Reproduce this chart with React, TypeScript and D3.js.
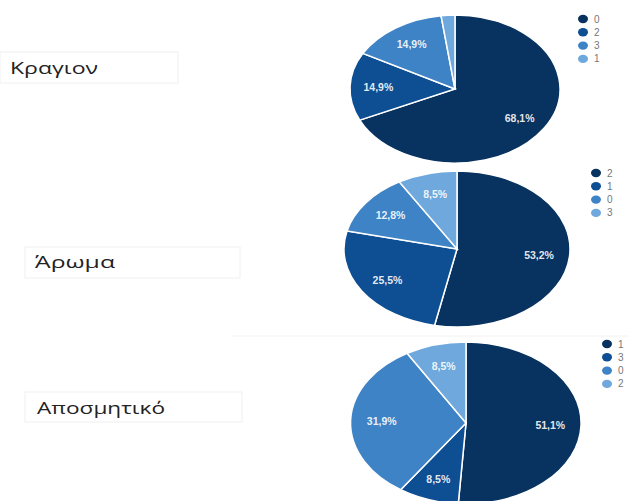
import React from "react";
import * as d3 from "d3";

const titles = ["Κραγιον", "Άρωμα", "Αποσμητικό"];
const categories1 = ["0", "2", "3", "1"];
const counts1 = [32, 7, 7, 1];
const categories2 = ["2", "1", "0", "3"];
const counts2 = [25, 12, 6, 4];
const categories3 = ["1", "3", "0", "2"];
const counts3 = [24, 4, 15, 4];
const palette = ["#08325f", "#0e4e93", "#3d83c6", "#6ea8dd"];

const layouts = [
  { cx: 455, cy: 89, rx: 105, ry: 74, lx: 583, ly: 19, box: [0, 52, 178, 31], tx: 10, ty: 74, tw: 88 },
  { cx: 457, cy: 249, rx: 113, ry: 78, lx: 596, ly: 173, box: [25, 247, 215, 31], tx: 35, ty: 268, tw: 80 },
  { cx: 466, cy: 423, rx: 115.5, ry: 81, lx: 607, ly: 344, box: [25, 392, 217, 30], tx: 37, ty: 414, tw: 128 },
];

const datasets = [
  { cats: categories1, vals: counts1 },
  { cats: categories2, vals: counts2 },
  { cats: categories3, vals: counts3 },
];

function Pie({ idx }: { idx: number }) {
  const L = layouts[idx];
  const { cats, vals } = datasets[idx];
  const total = d3.sum(vals);
  const pie = d3.pie<number>().sort(null).value((d) => d);
  const arcs = pie(vals);
  const arc = d3.arc<d3.PieArcDatum<number>>().innerRadius(0).outerRadius(1);
  const fmt = (v: number) => ((v / total) * 100).toFixed(1).replace(".", ",") + "%";
  return (
    <g>
      <rect x={L.box[0]} y={L.box[1]} width={L.box[2]} height={L.box[3]} fill="#fff" stroke="#f0f0f0" strokeWidth={1} />
      <text x={L.tx} y={L.ty} fontFamily="'Open Sans', sans-serif" fontSize={15.5} fill="#222" textLength={L.tw} lengthAdjust="spacingAndGlyphs">
        {titles[idx]}
      </text>
      <g transform={`translate(${L.cx},${L.cy}) scale(${L.rx},${L.ry})`}>
        {arcs.map((a, i) => (
          <path key={i} d={arc(a) || ""} fill={palette[i]} stroke="#ffffff" strokeWidth={1.5} vectorEffect="non-scaling-stroke" />
        ))}
      </g>
      {arcs.map((a, i) => {
        if (a.endAngle - a.startAngle < 0.3) return null;
        const m = (a.startAngle + a.endAngle) / 2;
        const r = 0.73;
        const x = L.cx + Math.sin(m) * r * L.rx;
        const y = L.cy - Math.cos(m) * r * L.ry;
        return (
          <text key={i} x={x} y={y} textAnchor="middle" dominantBaseline="central" fontFamily="'Liberation Sans', Arial, sans-serif" fontSize={10.5} fontWeight={600} fill="#ffffff" fillOpacity={0.9}>
            {fmt(vals[i])}
          </text>
        );
      })}
      {cats.map((c, i) => (
        <g key={c} transform={`translate(${L.lx},${L.ly + i * 13.3})`}>
          <ellipse cx={0} cy={0} rx={5} ry={4.2} fill={palette[i]} />
          <text x={11} y={0} dominantBaseline="central" fontFamily="'Liberation Sans', Arial, sans-serif" fontSize={10} fill="#777">
            {c}
          </text>
        </g>
      ))}
    </g>
  );
}

export default function App() {
  return (
    <svg width={629} height={501} style={{ position: "absolute", left: 0, top: 0, background: "#fff" }}>
      <line x1={232} x2={629} y1={336} y2={336} stroke="#f2f2f2" strokeWidth={1} />
      {[0, 1, 2].map((i) => (
        <Pie key={i} idx={i} />
      ))}
    </svg>
  );
}
